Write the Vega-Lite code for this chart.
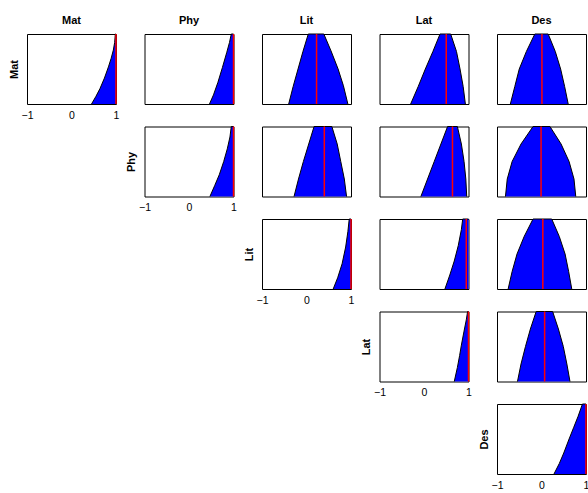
{
  "$schema": "https://vega.github.io/schema/vega-lite/v6.json",
  "padding": {"left": 7, "top": 14, "right": 2, "bottom": 5},
  "config": {
    "font": "Liberation Sans",
    "view": {"stroke": "black", "strokeWidth": 1}
  },
  "datasets": {
    "curves": [
      {"p": "11", "x": 0.45, "y": 0}, {"p": "11", "x": 0.55, "y": 0.11}, {"p": "11", "x": 0.64, "y": 0.22}, {"p": "11", "x": 0.74, "y": 0.37}, {"p": "11", "x": 0.83, "y": 0.53}, {"p": "11", "x": 0.89, "y": 0.65}, {"p": "11", "x": 0.94, "y": 0.77}, {"p": "11", "x": 0.97, "y": 0.88}, {"p": "11", "x": 0.985, "y": 1}, {"p": "11", "x": 1, "y": 1},
      {"p": "12", "x": 0.46, "y": 0}, {"p": "12", "x": 0.55, "y": 0.13}, {"p": "12", "x": 0.65, "y": 0.31}, {"p": "12", "x": 0.75, "y": 0.52}, {"p": "12", "x": 0.85, "y": 0.74}, {"p": "12", "x": 0.91, "y": 0.88}, {"p": "12", "x": 0.95, "y": 1}, {"p": "12", "x": 1, "y": 1},
      {"p": "13", "x": -0.40, "y": 0}, {"p": "13", "x": -0.30, "y": 0.25}, {"p": "13", "x": -0.19, "y": 0.5}, {"p": "13", "x": -0.08, "y": 0.75}, {"p": "13", "x": 0.04, "y": 1}, {"p": "13", "x": 0.39, "y": 1}, {"p": "13", "x": 0.55, "y": 0.76}, {"p": "13", "x": 0.71, "y": 0.5}, {"p": "13", "x": 0.83, "y": 0.26}, {"p": "13", "x": 0.93, "y": 0},
      {"p": "14", "x": -0.30, "y": 0}, {"p": "14", "x": -0.13, "y": 0.25}, {"p": "14", "x": 0.03, "y": 0.5}, {"p": "14", "x": 0.20, "y": 0.75}, {"p": "14", "x": 0.36, "y": 1}, {"p": "14", "x": 0.60, "y": 1}, {"p": "14", "x": 0.73, "y": 0.75}, {"p": "14", "x": 0.81, "y": 0.5}, {"p": "14", "x": 0.88, "y": 0.25}, {"p": "14", "x": 0.93, "y": 0},
      {"p": "15", "x": -0.70, "y": 0}, {"p": "15", "x": -0.60, "y": 0.25}, {"p": "15", "x": -0.50, "y": 0.5}, {"p": "15", "x": -0.34, "y": 0.75}, {"p": "15", "x": -0.15, "y": 1}, {"p": "15", "x": 0.15, "y": 1}, {"p": "15", "x": 0.31, "y": 0.75}, {"p": "15", "x": 0.43, "y": 0.5}, {"p": "15", "x": 0.52, "y": 0.25}, {"p": "15", "x": 0.60, "y": 0},
      {"p": "22", "x": 0.47, "y": 0}, {"p": "22", "x": 0.58, "y": 0.16}, {"p": "22", "x": 0.68, "y": 0.31}, {"p": "22", "x": 0.78, "y": 0.5}, {"p": "22", "x": 0.86, "y": 0.68}, {"p": "22", "x": 0.92, "y": 0.85}, {"p": "22", "x": 0.95, "y": 1}, {"p": "22", "x": 1, "y": 1},
      {"p": "23", "x": -0.28, "y": 0}, {"p": "23", "x": -0.18, "y": 0.25}, {"p": "23", "x": -0.07, "y": 0.5}, {"p": "23", "x": 0.05, "y": 0.75}, {"p": "23", "x": 0.17, "y": 1}, {"p": "23", "x": 0.57, "y": 1}, {"p": "23", "x": 0.69, "y": 0.75}, {"p": "23", "x": 0.77, "y": 0.5}, {"p": "23", "x": 0.85, "y": 0.25}, {"p": "23", "x": 0.90, "y": 0},
      {"p": "24", "x": -0.07, "y": 0}, {"p": "24", "x": 0.08, "y": 0.25}, {"p": "24", "x": 0.23, "y": 0.5}, {"p": "24", "x": 0.38, "y": 0.75}, {"p": "24", "x": 0.53, "y": 1}, {"p": "24", "x": 0.75, "y": 1}, {"p": "24", "x": 0.84, "y": 0.75}, {"p": "24", "x": 0.90, "y": 0.5}, {"p": "24", "x": 0.94, "y": 0.25}, {"p": "24", "x": 0.96, "y": 0},
      {"p": "25", "x": -0.81, "y": 0}, {"p": "25", "x": -0.77, "y": 0.25}, {"p": "25", "x": -0.66, "y": 0.5}, {"p": "25", "x": -0.46, "y": 0.75}, {"p": "25", "x": -0.19, "y": 1}, {"p": "25", "x": 0.19, "y": 1}, {"p": "25", "x": 0.44, "y": 0.75}, {"p": "25", "x": 0.62, "y": 0.5}, {"p": "25", "x": 0.73, "y": 0.25}, {"p": "25", "x": 0.77, "y": 0},
      {"p": "33", "x": 0.60, "y": 0}, {"p": "33", "x": 0.70, "y": 0.16}, {"p": "33", "x": 0.80, "y": 0.36}, {"p": "33", "x": 0.88, "y": 0.6}, {"p": "33", "x": 0.93, "y": 0.82}, {"p": "33", "x": 0.96, "y": 1}, {"p": "33", "x": 1, "y": 1},
      {"p": "34", "x": 0.47, "y": 0}, {"p": "34", "x": 0.58, "y": 0.2}, {"p": "34", "x": 0.68, "y": 0.4}, {"p": "34", "x": 0.77, "y": 0.62}, {"p": "34", "x": 0.84, "y": 0.85}, {"p": "34", "x": 0.87, "y": 1}, {"p": "34", "x": 1, "y": 1},
      {"p": "35", "x": -0.75, "y": 0}, {"p": "35", "x": -0.66, "y": 0.25}, {"p": "35", "x": -0.55, "y": 0.5}, {"p": "35", "x": -0.39, "y": 0.75}, {"p": "35", "x": -0.19, "y": 1}, {"p": "35", "x": 0.23, "y": 1}, {"p": "35", "x": 0.40, "y": 0.75}, {"p": "35", "x": 0.53, "y": 0.5}, {"p": "35", "x": 0.61, "y": 0.25}, {"p": "35", "x": 0.68, "y": 0},
      {"p": "44", "x": 0.68, "y": 0}, {"p": "44", "x": 0.75, "y": 0.2}, {"p": "44", "x": 0.80, "y": 0.37}, {"p": "44", "x": 0.84, "y": 0.52}, {"p": "44", "x": 0.90, "y": 0.72}, {"p": "44", "x": 0.95, "y": 0.88}, {"p": "44", "x": 0.98, "y": 1}, {"p": "44", "x": 1, "y": 1},
      {"p": "45", "x": -0.54, "y": 0}, {"p": "45", "x": -0.46, "y": 0.25}, {"p": "45", "x": -0.36, "y": 0.5}, {"p": "45", "x": -0.25, "y": 0.75}, {"p": "45", "x": -0.12, "y": 1}, {"p": "45", "x": 0.25, "y": 1}, {"p": "45", "x": 0.38, "y": 0.75}, {"p": "45", "x": 0.49, "y": 0.5}, {"p": "45", "x": 0.57, "y": 0.25}, {"p": "45", "x": 0.64, "y": 0},
      {"p": "55", "x": 0.28, "y": 0}, {"p": "55", "x": 0.40, "y": 0.15}, {"p": "55", "x": 0.50, "y": 0.3}, {"p": "55", "x": 0.62, "y": 0.5}, {"p": "55", "x": 0.72, "y": 0.66}, {"p": "55", "x": 0.82, "y": 0.82}, {"p": "55", "x": 0.92, "y": 1}, {"p": "55", "x": 1, "y": 1}
    ],
    "refs": [
      {"p": "11", "x": 1}, {"p": "12", "x": 1}, {"p": "13", "x": 0.226}, {"p": "14", "x": 0.5}, {"p": "15", "x": 0.01},
      {"p": "22", "x": 1}, {"p": "23", "x": 0.4}, {"p": "24", "x": 0.64}, {"p": "25", "x": -0.01},
      {"p": "33", "x": 1}, {"p": "34", "x": 0.95}, {"p": "35", "x": 0.03},
      {"p": "44", "x": 1}, {"p": "45", "x": 0.07},
      {"p": "55", "x": 1}
    ]
  },
  "columns": 5,
  "spacing": {"row": 22.5, "column": 28.5},
  "bounds": "flush",
  "concat": [
    {"width": 89, "height": 70,
     "title": {"text": "Mat", "fontSize": 11, "fontWeight": "bold", "color": "black", "frame": "group", "anchor": "middle", "baseline": "alphabetic", "offset": -3},
     "layer": [
      {"data": {"name": "curves"}, "transform": [{"filter": "datum.p == '11'"}],
       "mark": {"type": "area", "color": "#0000ff", "opacity": 1, "line": {"color": "black", "strokeWidth": 1}},
       "encoding": {
         "x": {"field": "x", "type": "quantitative", "scale": {"domain": [-1, 1]}, "axis": {"tickCount": 3, "format": "d", "labelFontSize": 10.5, "labelColor": "black", "labelPadding": 6, "labelFlush": false, "labelOverlap": false, "ticks": false, "domain": false, "grid": false, "title": null}},
         "y": {"field": "y", "type": "quantitative", "stack": null, "scale": {"domain": [0, 1]}, "axis": {"title": "Mat", "titleFontSize": 11, "titleFontWeight": "bold", "titleColor": "black", "titlePadding": 8, "labels": false, "ticks": false, "domain": false, "grid": false}}}},
      {"data": {"name": "refs"}, "transform": [{"filter": "datum.p == '11'"}], "mark": {"type": "rule", "color": "#ff0000", "strokeWidth": 1.5}, "encoding": {"x": {"field": "x", "type": "quantitative"}}}
     ]},
    {"width": 89, "height": 70,
     "title": {"text": "Phy", "fontSize": 11, "fontWeight": "bold", "color": "black", "frame": "group", "anchor": "middle", "baseline": "alphabetic", "offset": -3},
     "layer": [
      {"data": {"name": "curves"}, "transform": [{"filter": "datum.p == '12'"}],
       "mark": {"type": "area", "color": "#0000ff", "opacity": 1, "line": {"color": "black", "strokeWidth": 1}},
       "encoding": {
         "x": {"field": "x", "type": "quantitative", "scale": {"domain": [-1, 1]}, "axis": null},
         "y": {"field": "y", "type": "quantitative", "stack": null, "scale": {"domain": [0, 1]}, "axis": null}}},
      {"data": {"name": "refs"}, "transform": [{"filter": "datum.p == '12'"}], "mark": {"type": "rule", "color": "#ff0000", "strokeWidth": 1.5}, "encoding": {"x": {"field": "x", "type": "quantitative"}}}
     ]},
    {"width": 89, "height": 70,
     "title": {"text": "Lit", "fontSize": 11, "fontWeight": "bold", "color": "black", "frame": "group", "anchor": "middle", "baseline": "alphabetic", "offset": -3},
     "layer": [
      {"data": {"name": "curves"}, "transform": [{"filter": "datum.p == '13'"}],
       "mark": {"type": "area", "color": "#0000ff", "opacity": 1, "line": {"color": "black", "strokeWidth": 1}},
       "encoding": {
         "x": {"field": "x", "type": "quantitative", "scale": {"domain": [-1, 1]}, "axis": null},
         "y": {"field": "y", "type": "quantitative", "stack": null, "scale": {"domain": [0, 1]}, "axis": null}}},
      {"data": {"name": "refs"}, "transform": [{"filter": "datum.p == '13'"}], "mark": {"type": "rule", "color": "#ff0000", "strokeWidth": 1.5}, "encoding": {"x": {"field": "x", "type": "quantitative"}}}
     ]},
    {"width": 89, "height": 70,
     "title": {"text": "Lat", "fontSize": 11, "fontWeight": "bold", "color": "black", "frame": "group", "anchor": "middle", "baseline": "alphabetic", "offset": -3},
     "layer": [
      {"data": {"name": "curves"}, "transform": [{"filter": "datum.p == '14'"}],
       "mark": {"type": "area", "color": "#0000ff", "opacity": 1, "line": {"color": "black", "strokeWidth": 1}},
       "encoding": {
         "x": {"field": "x", "type": "quantitative", "scale": {"domain": [-1, 1]}, "axis": null},
         "y": {"field": "y", "type": "quantitative", "stack": null, "scale": {"domain": [0, 1]}, "axis": null}}},
      {"data": {"name": "refs"}, "transform": [{"filter": "datum.p == '14'"}], "mark": {"type": "rule", "color": "#ff0000", "strokeWidth": 1.5}, "encoding": {"x": {"field": "x", "type": "quantitative"}}}
     ]},
    {"width": 89, "height": 70,
     "title": {"text": "Des", "fontSize": 11, "fontWeight": "bold", "color": "black", "frame": "group", "anchor": "middle", "baseline": "alphabetic", "offset": -3},
     "layer": [
      {"data": {"name": "curves"}, "transform": [{"filter": "datum.p == '15'"}],
       "mark": {"type": "area", "color": "#0000ff", "opacity": 1, "line": {"color": "black", "strokeWidth": 1}},
       "encoding": {
         "x": {"field": "x", "type": "quantitative", "scale": {"domain": [-1, 1]}, "axis": null},
         "y": {"field": "y", "type": "quantitative", "stack": null, "scale": {"domain": [0, 1]}, "axis": null}}},
      {"data": {"name": "refs"}, "transform": [{"filter": "datum.p == '15'"}], "mark": {"type": "rule", "color": "#ff0000", "strokeWidth": 1.5}, "encoding": {"x": {"field": "x", "type": "quantitative"}}}
     ]},

    {"width": 89, "height": 70, "data": {"values": []}, "mark": "point", "view": {"stroke": null}},
    {"width": 89, "height": 70,
     "layer": [
      {"data": {"name": "curves"}, "transform": [{"filter": "datum.p == '22'"}],
       "mark": {"type": "area", "color": "#0000ff", "opacity": 1, "line": {"color": "black", "strokeWidth": 1}},
       "encoding": {
         "x": {"field": "x", "type": "quantitative", "scale": {"domain": [-1, 1]}, "axis": {"tickCount": 3, "format": "d", "labelFontSize": 10.5, "labelColor": "black", "labelPadding": 6, "labelFlush": false, "labelOverlap": false, "ticks": false, "domain": false, "grid": false, "title": null}},
         "y": {"field": "y", "type": "quantitative", "stack": null, "scale": {"domain": [0, 1]}, "axis": {"title": "Phy", "titleFontSize": 11, "titleFontWeight": "bold", "titleColor": "black", "titlePadding": 8, "labels": false, "ticks": false, "domain": false, "grid": false}}}},
      {"data": {"name": "refs"}, "transform": [{"filter": "datum.p == '22'"}], "mark": {"type": "rule", "color": "#ff0000", "strokeWidth": 1.5}, "encoding": {"x": {"field": "x", "type": "quantitative"}}}
     ]},
    {"width": 89, "height": 70,
     "layer": [
      {"data": {"name": "curves"}, "transform": [{"filter": "datum.p == '23'"}],
       "mark": {"type": "area", "color": "#0000ff", "opacity": 1, "line": {"color": "black", "strokeWidth": 1}},
       "encoding": {
         "x": {"field": "x", "type": "quantitative", "scale": {"domain": [-1, 1]}, "axis": null},
         "y": {"field": "y", "type": "quantitative", "stack": null, "scale": {"domain": [0, 1]}, "axis": null}}},
      {"data": {"name": "refs"}, "transform": [{"filter": "datum.p == '23'"}], "mark": {"type": "rule", "color": "#ff0000", "strokeWidth": 1.5}, "encoding": {"x": {"field": "x", "type": "quantitative"}}}
     ]},
    {"width": 89, "height": 70,
     "layer": [
      {"data": {"name": "curves"}, "transform": [{"filter": "datum.p == '24'"}],
       "mark": {"type": "area", "color": "#0000ff", "opacity": 1, "line": {"color": "black", "strokeWidth": 1}},
       "encoding": {
         "x": {"field": "x", "type": "quantitative", "scale": {"domain": [-1, 1]}, "axis": null},
         "y": {"field": "y", "type": "quantitative", "stack": null, "scale": {"domain": [0, 1]}, "axis": null}}},
      {"data": {"name": "refs"}, "transform": [{"filter": "datum.p == '24'"}], "mark": {"type": "rule", "color": "#ff0000", "strokeWidth": 1.5}, "encoding": {"x": {"field": "x", "type": "quantitative"}}}
     ]},
    {"width": 89, "height": 70,
     "layer": [
      {"data": {"name": "curves"}, "transform": [{"filter": "datum.p == '25'"}],
       "mark": {"type": "area", "color": "#0000ff", "opacity": 1, "line": {"color": "black", "strokeWidth": 1}},
       "encoding": {
         "x": {"field": "x", "type": "quantitative", "scale": {"domain": [-1, 1]}, "axis": null},
         "y": {"field": "y", "type": "quantitative", "stack": null, "scale": {"domain": [0, 1]}, "axis": null}}},
      {"data": {"name": "refs"}, "transform": [{"filter": "datum.p == '25'"}], "mark": {"type": "rule", "color": "#ff0000", "strokeWidth": 1.5}, "encoding": {"x": {"field": "x", "type": "quantitative"}}}
     ]},

    {"width": 89, "height": 70, "data": {"values": []}, "mark": "point", "view": {"stroke": null}},
    {"width": 89, "height": 70, "data": {"values": []}, "mark": "point", "view": {"stroke": null}},
    {"width": 89, "height": 70,
     "layer": [
      {"data": {"name": "curves"}, "transform": [{"filter": "datum.p == '33'"}],
       "mark": {"type": "area", "color": "#0000ff", "opacity": 1, "line": {"color": "black", "strokeWidth": 1}},
       "encoding": {
         "x": {"field": "x", "type": "quantitative", "scale": {"domain": [-1, 1]}, "axis": {"tickCount": 3, "format": "d", "labelFontSize": 10.5, "labelColor": "black", "labelPadding": 6, "labelFlush": false, "labelOverlap": false, "ticks": false, "domain": false, "grid": false, "title": null}},
         "y": {"field": "y", "type": "quantitative", "stack": null, "scale": {"domain": [0, 1]}, "axis": {"title": "Lit", "titleFontSize": 11, "titleFontWeight": "bold", "titleColor": "black", "titlePadding": 8, "labels": false, "ticks": false, "domain": false, "grid": false}}}},
      {"data": {"name": "refs"}, "transform": [{"filter": "datum.p == '33'"}], "mark": {"type": "rule", "color": "#ff0000", "strokeWidth": 1.5}, "encoding": {"x": {"field": "x", "type": "quantitative"}}}
     ]},
    {"width": 89, "height": 70,
     "layer": [
      {"data": {"name": "curves"}, "transform": [{"filter": "datum.p == '34'"}],
       "mark": {"type": "area", "color": "#0000ff", "opacity": 1, "line": {"color": "black", "strokeWidth": 1}},
       "encoding": {
         "x": {"field": "x", "type": "quantitative", "scale": {"domain": [-1, 1]}, "axis": null},
         "y": {"field": "y", "type": "quantitative", "stack": null, "scale": {"domain": [0, 1]}, "axis": null}}},
      {"data": {"name": "refs"}, "transform": [{"filter": "datum.p == '34'"}], "mark": {"type": "rule", "color": "#ff0000", "strokeWidth": 1.5}, "encoding": {"x": {"field": "x", "type": "quantitative"}}}
     ]},
    {"width": 89, "height": 70,
     "layer": [
      {"data": {"name": "curves"}, "transform": [{"filter": "datum.p == '35'"}],
       "mark": {"type": "area", "color": "#0000ff", "opacity": 1, "line": {"color": "black", "strokeWidth": 1}},
       "encoding": {
         "x": {"field": "x", "type": "quantitative", "scale": {"domain": [-1, 1]}, "axis": null},
         "y": {"field": "y", "type": "quantitative", "stack": null, "scale": {"domain": [0, 1]}, "axis": null}}},
      {"data": {"name": "refs"}, "transform": [{"filter": "datum.p == '35'"}], "mark": {"type": "rule", "color": "#ff0000", "strokeWidth": 1.5}, "encoding": {"x": {"field": "x", "type": "quantitative"}}}
     ]},

    {"width": 89, "height": 70, "data": {"values": []}, "mark": "point", "view": {"stroke": null}},
    {"width": 89, "height": 70, "data": {"values": []}, "mark": "point", "view": {"stroke": null}},
    {"width": 89, "height": 70, "data": {"values": []}, "mark": "point", "view": {"stroke": null}},
    {"width": 89, "height": 70,
     "layer": [
      {"data": {"name": "curves"}, "transform": [{"filter": "datum.p == '44'"}],
       "mark": {"type": "area", "color": "#0000ff", "opacity": 1, "line": {"color": "black", "strokeWidth": 1}},
       "encoding": {
         "x": {"field": "x", "type": "quantitative", "scale": {"domain": [-1, 1]}, "axis": {"tickCount": 3, "format": "d", "labelFontSize": 10.5, "labelColor": "black", "labelPadding": 6, "labelFlush": false, "labelOverlap": false, "ticks": false, "domain": false, "grid": false, "title": null}},
         "y": {"field": "y", "type": "quantitative", "stack": null, "scale": {"domain": [0, 1]}, "axis": {"title": "Lat", "titleFontSize": 11, "titleFontWeight": "bold", "titleColor": "black", "titlePadding": 8, "labels": false, "ticks": false, "domain": false, "grid": false}}}},
      {"data": {"name": "refs"}, "transform": [{"filter": "datum.p == '44'"}], "mark": {"type": "rule", "color": "#ff0000", "strokeWidth": 1.5}, "encoding": {"x": {"field": "x", "type": "quantitative"}}}
     ]},
    {"width": 89, "height": 70,
     "layer": [
      {"data": {"name": "curves"}, "transform": [{"filter": "datum.p == '45'"}],
       "mark": {"type": "area", "color": "#0000ff", "opacity": 1, "line": {"color": "black", "strokeWidth": 1}},
       "encoding": {
         "x": {"field": "x", "type": "quantitative", "scale": {"domain": [-1, 1]}, "axis": null},
         "y": {"field": "y", "type": "quantitative", "stack": null, "scale": {"domain": [0, 1]}, "axis": null}}},
      {"data": {"name": "refs"}, "transform": [{"filter": "datum.p == '45'"}], "mark": {"type": "rule", "color": "#ff0000", "strokeWidth": 1.5}, "encoding": {"x": {"field": "x", "type": "quantitative"}}}
     ]},

    {"width": 89, "height": 70, "data": {"values": []}, "mark": "point", "view": {"stroke": null}},
    {"width": 89, "height": 70, "data": {"values": []}, "mark": "point", "view": {"stroke": null}},
    {"width": 89, "height": 70, "data": {"values": []}, "mark": "point", "view": {"stroke": null}},
    {"width": 89, "height": 70, "data": {"values": []}, "mark": "point", "view": {"stroke": null}},
    {"width": 89, "height": 70,
     "layer": [
      {"data": {"name": "curves"}, "transform": [{"filter": "datum.p == '55'"}],
       "mark": {"type": "area", "color": "#0000ff", "opacity": 1, "line": {"color": "black", "strokeWidth": 1}},
       "encoding": {
         "x": {"field": "x", "type": "quantitative", "scale": {"domain": [-1, 1]}, "axis": {"tickCount": 3, "format": "d", "labelFontSize": 10.5, "labelColor": "black", "labelPadding": 6, "labelFlush": false, "labelOverlap": false, "ticks": false, "domain": false, "grid": false, "title": null}},
         "y": {"field": "y", "type": "quantitative", "stack": null, "scale": {"domain": [0, 1]}, "axis": {"title": "Des", "titleFontSize": 11, "titleFontWeight": "bold", "titleColor": "black", "titlePadding": 8, "labels": false, "ticks": false, "domain": false, "grid": false}}}},
      {"data": {"name": "refs"}, "transform": [{"filter": "datum.p == '55'"}], "mark": {"type": "rule", "color": "#ff0000", "strokeWidth": 1.5}, "encoding": {"x": {"field": "x", "type": "quantitative"}}}
     ]}
  ]
}
